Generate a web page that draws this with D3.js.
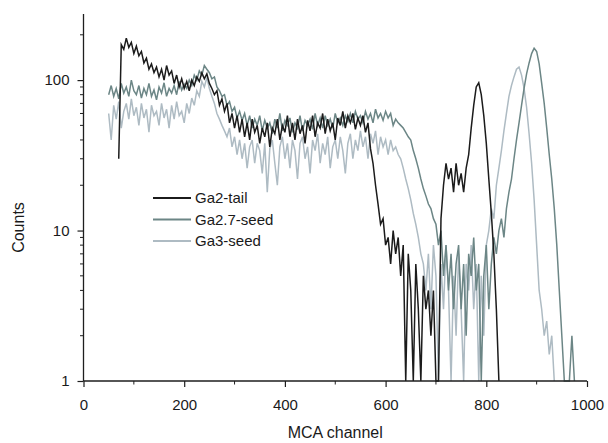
<!DOCTYPE html>
<html>
<head>
<meta charset="utf-8">
<script src="https://cdn.jsdelivr.net/npm/d3@7"></script>
<style>
  body { margin: 0; background: #fff; }
</style>
</head>
<body>
<div id="chart"></div>
<script>
const CHANNEL_STEP = 5;

const TAIL_START = 70;
const TAIL_COUNTS = [
  30, 172, 160, 190, 165, 178, 150, 168, 145, 155,
  130, 140, 118, 128, 112, 122, 105, 118, 100, 125,
  108, 115, 95, 108, 90, 102, 88, 98, 85, 100,
  92, 105, 98, 112, 102, 110, 95, 88, 80, 85,
  68, 75, 62, 70, 52, 60, 48, 58, 45, 55,
  42, 52, 40, 55, 45, 50, 38, 48, 42, 52,
  36, 48, 44, 55, 40, 50, 45, 58, 42, 52,
  40, 55, 44, 50, 38, 54, 46, 58, 42, 52,
  48, 60, 44, 55, 46, 52, 40, 56, 50, 62,
  48, 58, 52, 60, 47, 56, 50, 58, 45, 52,
  35, 28, 20, 15, 11, 12, 8, 9, 6, 10,
  7, 9, 5, 8, 1, 7, 4, 1, 6, 3,
  1, 5, 3, 4, 2, 4, 1, 1, 12, 20,
  28, 22, 26, 18, 28, 20, 24, 18, 26, 32,
  48, 68, 90, 96, 80, 58, 38, 22, 13, 7,
  3, 1
];

const SEED27_START = 50;
const SEED27_COUNTS = [
  80, 92, 78, 88, 75, 95, 82, 90, 78, 100,
  85, 80, 92, 76, 88, 80, 95, 78, 86, 74,
  90, 82, 96, 78, 88, 82, 92, 80, 98, 86,
  94, 88, 100, 92, 108, 100, 115, 108, 125, 118,
  112, 102, 105, 90, 85, 78, 80, 68, 72, 62,
  66, 56, 62, 54, 60, 50, 58, 48, 55, 50,
  58, 46, 54, 48, 52, 44, 55, 48, 60, 46,
  54, 50, 56, 45, 52, 48, 58, 46, 54, 50,
  55, 47, 60, 50, 56, 48, 58, 50, 55, 48,
  60, 52, 56, 50, 58, 53, 60, 52, 62, 55,
  58, 52, 62, 55, 60, 52, 64, 56, 60, 54,
  62, 56, 60, 50, 55, 52, 50, 48, 45, 42,
  40, 34, 30, 26, 22, 19, 17, 15, 14, 12,
  11, 8, 10, 5, 8, 4, 7, 3, 6, 8,
  3, 6, 2, 7, 5, 9, 4, 6, 1, 5,
  8, 3, 6, 9, 7, 10, 12, 9, 14, 18,
  22, 30, 40, 52, 68, 88, 110, 130, 150, 163,
  155, 128, 95, 70, 48, 32, 22, 14, 8, 4,
  2, 1, 1, 1, 2, 1
];

const SEED3_START = 50;
const SEED3_COUNTS = [
  60, 40, 68, 55, 72, 48, 62, 70, 55, 75,
  58, 66, 50, 70, 56, 64, 45, 68, 58, 62,
  50, 70, 56, 64, 48, 68, 55, 72, 58, 62,
  52, 70, 60, 76, 68, 85, 78, 98, 90, 104,
  88, 78, 70, 60, 55, 50, 46, 42, 48, 36,
  42, 32, 40, 30, 38, 26, 36, 40, 28, 38,
  34, 24, 38, 18, 35, 40, 28, 20, 36, 42,
  30, 38, 26, 40, 34, 22, 38, 42, 30, 36,
  24, 40, 34, 44, 28, 38, 32, 42, 26, 36,
  40, 30, 42, 34, 24, 38, 44, 30, 40, 34,
  46, 36, 42, 30, 44, 38, 46, 32, 42, 36,
  40, 32, 40, 34, 36, 32, 30, 26, 22, 19,
  16, 13, 11, 9, 7, 6, 4, 7, 3, 8,
  5, 1, 6, 3, 8, 4, 1, 5, 2, 7,
  3, 1, 6, 4, 8, 3, 6, 1, 5, 2,
  8, 10, 14, 12, 20, 26, 34, 46, 60, 78,
  92, 105, 118, 122, 108, 88, 66, 44, 28, 16,
  8, 4, 3, 2, 2.5, 1.5, 2, 1
];

const SERIES_NAMES = ["Ga2-tail", "Ga2.7-seed", "Ga3-seed"];
const SERIES_COLORS = ["#1b1b1b", "#6c8686", "#aebbc3"];

const X_MAJOR_TICKS = [0, 200, 400, 600, 800, 1000];
const X_MINOR_TICKS = [100, 300, 500, 700, 900];
const Y_MAJOR_TICKS = [1, 10, 100];
const Y_MINOR_TICKS = [2, 3, 4, 5, 6, 7, 8, 9, 20, 30, 40, 50, 60, 70, 80, 90, 200];

const WIDTH = 608;
const HEIGHT = 443;
const PLOT_LEFT = 83.5;
const PLOT_RIGHT = 587;
const PLOT_TOP = 14;
const PLOT_BOTTOM = 381;
const Y_MAX = 275;
const FONT = "'Liberation Sans', Arial, sans-serif";
const AXIS_COLOR = "#1e1e1e";

function toPoints(start, counts) {
  return counts.map((count, i) => ({ channel: start + i * CHANNEL_STEP, count }));
}

const seriesList = [
  { name: SERIES_NAMES[0], color: SERIES_COLORS[0], points: toPoints(TAIL_START, TAIL_COUNTS) },
  { name: SERIES_NAMES[1], color: SERIES_COLORS[1], points: toPoints(SEED27_START, SEED27_COUNTS) },
  { name: SERIES_NAMES[2], color: SERIES_COLORS[2], points: toPoints(SEED3_START, SEED3_COUNTS) },
];

const x = d3.scaleLinear().domain([0, 1000]).range([PLOT_LEFT, PLOT_RIGHT]);
const y = d3.scaleLog().domain([1, Y_MAX]).range([PLOT_BOTTOM, PLOT_TOP]);

const svg = d3
  .select("#chart")
  .append("svg")
  .attr("width", WIDTH)
  .attr("height", HEIGHT)
  .style("display", "block")
  .style("font-family", FONT);

// spectra: lightest at the back, black on top
const line = d3
  .line()
  .x((d) => x(d.channel))
  .y((d) => y(Math.max(1, d.count)));

const spectraGroup = svg.append("g").attr("class", "spectra");
seriesList
  .slice()
  .reverse()
  .forEach((series) => {
    spectraGroup
      .append("path")
      .datum(series.points)
      .attr("d", line)
      .attr("fill", "none")
      .attr("stroke", series.color)
      .attr("stroke-width", 1.5)
      .attr("stroke-linejoin", "miter");
  });

// bottom axis
const xAxis = svg
  .append("g")
  .attr("transform", `translate(0,${PLOT_BOTTOM})`)
  .call(d3.axisBottom(x).tickValues(X_MAJOR_TICKS).tickSize(6).tickPadding(12).tickFormat(d3.format("d")));
xAxis
  .append("g")
  .selectAll("line")
  .data(X_MINOR_TICKS)
  .join("line")
  .attr("x1", (d) => x(d))
  .attr("x2", (d) => x(d))
  .attr("y1", 0)
  .attr("y2", 3.5)
  .attr("stroke", AXIS_COLOR);

// left axis
const yAxis = svg
  .append("g")
  .attr("transform", `translate(${PLOT_LEFT},0)`)
  .call(d3.axisLeft(y).tickValues(Y_MAJOR_TICKS).tickSize(6).tickPadding(8).tickFormat(d3.format("d")));
yAxis
  .append("g")
  .selectAll("line")
  .data(Y_MINOR_TICKS)
  .join("line")
  .attr("x1", 0)
  .attr("x2", -3.5)
  .attr("y1", (d) => y(d))
  .attr("y2", (d) => y(d))
  .attr("stroke", AXIS_COLOR);

[xAxis, yAxis].forEach((axis) => {
  axis.select(".domain").attr("stroke", AXIS_COLOR).attr("stroke-width", 1.3);
  axis.selectAll(".tick line").attr("stroke", AXIS_COLOR).attr("stroke-width", 1.2);
  axis
    .selectAll("text")
    .attr("fill", "#1a1a1a")
    .style("font-family", FONT)
    .style("font-size", "15px");
});
xAxis.select(".domain").attr("d", `M${PLOT_LEFT},0H${PLOT_RIGHT}`);
yAxis.select(".domain").attr("d", `M0,${PLOT_BOTTOM}V${PLOT_TOP}`);

// axis titles
svg
  .append("text")
  .attr("x", (PLOT_LEFT + PLOT_RIGHT) / 2)
  .attr("y", 438)
  .attr("text-anchor", "middle")
  .attr("fill", "#1a1a1a")
  .style("font-size", "16px")
  .text("MCA channel");

svg
  .append("text")
  .attr("transform", `translate(24,${(PLOT_TOP + PLOT_BOTTOM) / 2 + 30}) rotate(-90)`)
  .attr("text-anchor", "middle")
  .attr("fill", "#1a1a1a")
  .style("font-size", "16px")
  .text("Counts");

// legend
const legend = svg.append("g").attr("transform", "translate(153,198)");
seriesList.forEach((series, i) => {
  const row = legend.append("g").attr("transform", `translate(0,${i * 21.5})`);
  row
    .append("line")
    .attr("x1", 0)
    .attr("x2", 38)
    .attr("stroke", series.color)
    .attr("stroke-width", 2);
  row
    .append("text")
    .attr("x", 42)
    .attr("dy", "0.35em")
    .attr("fill", "#1a1a1a")
    .style("font-size", "15px")
    .text(series.name);
});
</script>
</body>
</html>
